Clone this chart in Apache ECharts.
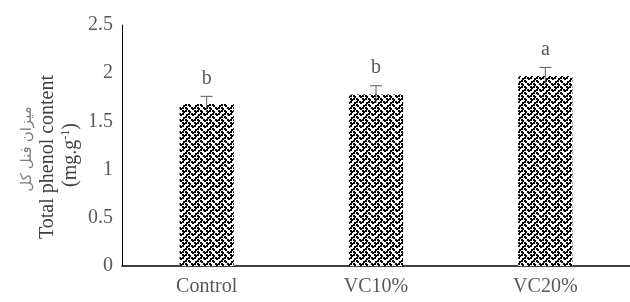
<!DOCTYPE html>
<html>
<head>
<meta charset="utf-8">
<script src="https://cdn.jsdelivr.net/npm/echarts@6/dist/echarts.min.js"></script>
<style>html,body{margin:0;padding:0;background:#fff;}#c{width:630px;height:302px;}</style>
</head>
<body>
<div id="c"></div>
<script>
var categories = ['Control', 'VC10%', 'VC20%'];
var values = [1.68, 1.78, 1.97];
var errors = [0.08, 0.09, 0.09];
var letters = ['b', 'b', 'a'];
var yTicks = [0, 0.5, 1, 1.5, 2, 2.5];

// weave tile pattern
var rows = ['10001000','01010100','00100010','01000101','10001000','00010100','00100010','01010001'];
var S = 1.5;
var tile = document.createElement('canvas');
tile.width = 12; tile.height = 12;
var tctx = tile.getContext('2d');
tctx.fillStyle = '#fff'; tctx.fillRect(0,0,12,12);
tctx.fillStyle = '#000';
rows.forEach(function(r, y){
  for (var x = 0; x < 8; x++) if (r[x] === '1') {
    var px = Math.round(x*S), py = Math.round(y*S);
    tctx.fillRect(px, py, 2, 2);
    if (px + 2 > 12) tctx.fillRect(px - 12, py, 2, 2);
    if (py + 2 > 12) tctx.fillRect(px, py - 12, 2, 2);
  }
});

var serif = '"Liberation Serif", "DejaVu Serif", serif';
var chart = echarts.init(document.getElementById('c'), null, {renderer: 'canvas'});
chart.setOption({
  animation: false,
  grid: {left: 122, top: 25, width: 516, height: 241},
  xAxis: {
    type: 'category', data: categories,
    axisLine: {lineStyle: {color: '#000', width: 1.5}},
    axisTick: {show: false},
    axisLabel: {color: '#595959', fontFamily: serif, fontSize: 20, margin: 11}
  },
  yAxis: {
    type: 'value', min: yTicks[0], max: yTicks[yTicks.length-1], interval: 0.5,
    axisLine: {show: true, lineStyle: {color: '#000', width: 1}},
    axisTick: {show: false},
    splitLine: {show: false},
    axisLabel: {color: '#595959', fontFamily: serif, fontSize: 20, margin: 9}
  },
  graphic: [
    {type: 'text', x: 27, y: 149, rotation: Math.PI/2,
     style: {text: 'میزان فنل کل', font: '15px "Noto Sans", "DejaVu Sans", sans-serif', fill: '#7f7f7f', textAlign: 'center', textVerticalAlign: 'middle'}},
    {type: 'text', x: 48, y: 157, rotation: Math.PI/2,
     style: {text: 'Total phenol content', font: '20px ' + serif, fill: '#404040', textAlign: 'center', textVerticalAlign: 'middle'}},
    {type: 'text', x: 71, y: 155, rotation: Math.PI/2,
     style: {text: '(mg.g{s|-1})', font: '20px ' + serif, fill: '#404040', textAlign: 'center', textVerticalAlign: 'middle',
       rich: {s: {fontSize: 12, fontFamily: serif, verticalAlign: 'top', padding: [0,0,10,0], fill: '#404040'}}}}
  ],
  series: [
    {
      type: 'bar', data: values, barWidth: '32%',
      itemStyle: {color: {image: tile, repeat: 'repeat'}}
    },
    {
      type: 'custom',
      data: values.map(function(v, i){ return [i, v, errors[i]]; }),
      renderItem: function(params, api){
        var i = api.value(0), v = api.value(1), e = api.value(2);
        var top = api.coord([i, v + e]);
        var bot = api.coord([i, v - e]);
        var x = top[0];
        return {type: 'group', children: [
          {type: 'line', shape: {x1: x, y1: top[1], x2: x, y2: bot[1]}, style: {stroke: '#595959', lineWidth: 1}},
          {type: 'line', shape: {x1: x-6, y1: top[1], x2: x+6, y2: top[1]}, style: {stroke: '#595959', lineWidth: 1}},
          {type: 'text', x: x, y: top[1] - 18, style: {text: letters[params.dataIndex], textAlign: 'center', textVerticalAlign: 'middle', font: '20px ' + serif, fill: '#595959'}}
        ]};
      },
      z: 5
    }
  ]
});
</script>
</body>
</html>
